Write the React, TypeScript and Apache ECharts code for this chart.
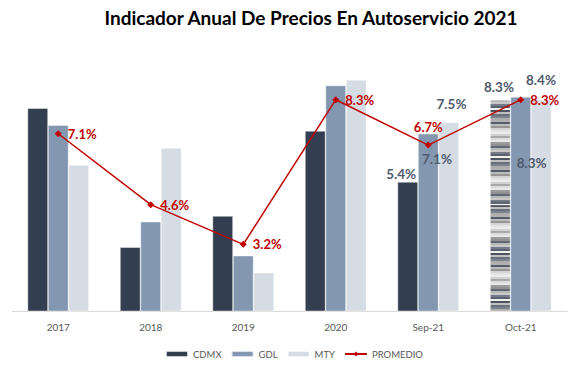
import React, { useEffect, useRef } from "react";
import * as echarts from "echarts";

const categories = ["2017", "2018", "2019", "2020", "Sep-21", "Oct-21"];
const cdmx = [8.0, 3.1, 4.2, 7.2, 5.4, 8.3];
const gdl = [7.4, 4.0, 2.8, 8.8, 7.1, 8.4];
const mty = [6.0, 6.6, 2.2, 9.0, 7.5, 8.3];
const promedio = [7.1, 4.6, 3.2, 8.3, 6.7, 8.3];

const C_CDMX = "#333F50";
const C_GDL = "#8497B0";
const C_MTY = "#D6DCE4";
const C_RED = "#C00000";
const C_LABEL = "#4F5B6D";
const FONT = "Lato, 'Noto Sans', sans-serif";

const STRIPE_COLORS = [
  "#b8b8b8", "#6a717c", "#d4d4d4", "#9c9c9c", "#f0f0f0", "#555d69",
  "#a8a8a8", "#c8c8c8", "#7c838e", "#e4e4e4", "#909090", "#4c5461",
  "#bcbcbc", "#dcdcdc", "#747b86", "#acacac", "#ececec", "#606874",
  "#c0c0c0", "#969696", "#e8e8e8", "#5a6270", "#b0b0b0", "#d0d0d0",
];

function makeStripes() {
  const n = 106;
  const stops: { offset: number; color: string }[] = [];
  for (let k = 0; k < n; k++) {
    const col = STRIPE_COLORS[(k * 7) % STRIPE_COLORS.length];
    stops.push({ offset: k / n, color: col });
    stops.push({ offset: (k + 1) / n - 0.0001, color: col });
  }
  return new echarts.graphic.LinearGradient(0, 0, 0, 1, stops);
}

export default function App() {
  const ref = useRef<HTMLDivElement>(null);
  useEffect(() => {
    if (!ref.current) return;
    const chart = echarts.init(ref.current, null, { renderer: "svg" });
    const stripes = makeStripes();
    const valLabel = (pos: number[]) => ({
      show: true,
      position: pos,
      align: "center",
      verticalAlign: "middle",
      color: C_LABEL,
      fontSize: 13.5,
      fontWeight: "bold",
      fontFamily: FONT,
      formatter: (p: any) => p.value + "%",
    });
    const cdmxData = cdmx.map((v, i) => {
      if (i === 4) return { value: v, label: valLabel([3.7, -8.4]) };
      if (i === 5)
        return {
          value: v,
          itemStyle: { color: stripes },
          label: valLabel([9, -12.6]),
        };
      return v;
    });
    const gdlData = gdl.map((v, i) => {
      if (i === 4) return { value: v, label: valLabel([19, 25]) };
      if (i === 5) return { value: v, label: valLabel([30.5, -16.6]) };
      return v;
    });
    const mtyData = mty.map((v, i) => {
      if (i === 4) return { value: v, label: valLabel([13, -18.3]) };
      if (i === 5) return { value: v, label: valLabel([0.7, 63.3]) };
      return v;
    });
    const promData = promedio.map((v, i) =>
      i === 4
        ? { value: v, label: { position: "top", distance: 8 } }
        : v
    );
    const barItem = (color: string) => ({
      color,
      borderColor: "rgba(255,255,255,0.7)",
      borderWidth: 0.6,
    });
    chart.setOption({
      animation: false,
      title: {
        text: "Indicador Anual De Precios En Autoservicio 2021",
        left: 306,
        top: 3,
        textAlign: "center",
        textStyle: {
          fontFamily: FONT,
          fontWeight: "bold",
          fontSize: 19,
          color: "#000000",
        },
      },
      grid: { left: 12, right: 13, top: 60, bottom: 55 },
      legend: {
        left: 165,
        top: 349,
        padding: 0,
        itemWidth: 22,
        itemHeight: 6,
        itemGap: 9,
        textStyle: { fontFamily: FONT, fontSize: 9.5, color: "#595959" },
        data: ["CDMX", "GDL", "MTY", "PROMEDIO"],
      },
      xAxis: {
        type: "category",
        data: categories,
        axisLine: { lineStyle: { color: "#D9D9D9", width: 1 } },
        axisTick: { show: false },
        axisLabel: {
          fontFamily: FONT,
          fontSize: 10,
          color: "#595959",
          margin: 11,
        },
      },
      yAxis: {
        type: "value",
        min: 0.85,
        max: 9.7,
        show: false,
        splitLine: { show: false },
      },
      series: [
        {
          name: "CDMX",
          type: "bar",
          data: cdmxData,
          barGap: "0%",
          barCategoryGap: "33.5%",
          itemStyle: barItem(C_CDMX),
        },
        {
          name: "GDL",
          type: "bar",
          data: gdlData,
          itemStyle: barItem(C_GDL),
        },
        {
          name: "MTY",
          type: "bar",
          data: mtyData,
          itemStyle: barItem(C_MTY),
        },
        {
          name: "PROMEDIO",
          type: "line",
          data: promData,
          symbol: "diamond",
          symbolSize: 7,
          itemStyle: { color: C_RED },
          lineStyle: { color: C_RED, width: 1.5 },
          label: {
            show: true,
            position: "right",
            distance: 6,
            color: C_RED,
            fontWeight: "bold",
            fontSize: 13,
            fontFamily: FONT,
            formatter: (p: any) => p.value + "%",
          },
          z: 5,
        },
      ],
    });
    return () => chart.dispose();
  }, []);
  return (
    <div
      ref={ref}
      style={{ position: "fixed", left: 0, top: 0, width: 580, height: 366, background: "#ffffff" }}
    />
  );
}
